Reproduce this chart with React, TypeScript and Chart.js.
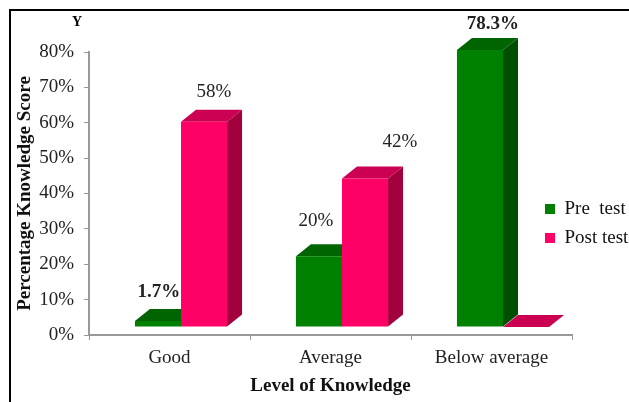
import React, { useEffect, useRef } from 'react';
import { Chart, registerables } from 'chart.js';

Chart.register(...registerables);

// ---- data ----
const categories = ['Good', 'Average', 'Below average'];
const seriesNames = ['Pre  test', 'Post test'];
const preTest = [1.7, 20, 78.3];
const postTest = [58, 42, 0];
const yTickValues = [0, 10, 20, 30, 40, 50, 60, 70, 80];

// ---- styles ----
const FONT = '"Liberation Serif", "Times New Roman", serif';
const frontColors = ['#008000', '#ff0066'];
const topColors = ['#006400', '#cc0052'];
const sideColors = ['#004e00', '#a3003e'];
const DX = 15;
const DY = 12;
const SHIFT_X = 11.5;
const SHIFT_Y = -8;
// label placement per dataset / category (offset from front top center)
const labelStyle: any[][] = [
  [
    { dx: 1, dy: -29, bold: true },
    { dx: -3, dy: -35, bold: false },
    { dx: 13, dy: -26, bold: true },
  ],
  [
    { dx: 10, dy: -30, bold: false },
    { dx: 35, dy: -36, bold: false },
    null,
  ],
];

const bar3d = {
  id: 'bar3d',
  beforeDraw(chart: any) {
    const ctx = chart.ctx;
    ctx.save();
    ctx.fillStyle = '#ffffff';
    ctx.fillRect(0, 0, chart.width, chart.height);
    ctx.fillStyle = '#000000';
    ctx.fillRect(9, 9, chart.width, 2);
    ctx.fillRect(9, 9, 2, chart.height);
    ctx.restore();
  },
  afterLayout(chart: any) {
    const lg = chart.legend;
    if (!lg) return;
    lg.left = 535;
    lg.right = chart.width;
    lg.width = lg.right - lg.left;
    lg.top = 189.5;
    lg.bottom = chart.height;
    lg.height = lg.bottom - lg.top;
  },
  beforeDatasetsDraw(chart: any) {
    const ctx = chart.ctx;
    ctx.save();
    ctx.translate(SHIFT_X, SHIFT_Y);
    chart.data.datasets.forEach((ds: any, di: number) => {
      const meta = chart.getDatasetMeta(di);
      meta.data.forEach((el: any) => {
        const { x, y, base, width } = el.getProps(['x', 'y', 'base', 'width'], true);
        const l = x - width / 2;
        const r = x + width / 2;
        ctx.fillStyle = sideColors[di];
        ctx.beginPath();
        ctx.moveTo(r, y);
        ctx.lineTo(r + DX, y - DY);
        ctx.lineTo(r + DX, base - DY);
        ctx.lineTo(r, base);
        ctx.closePath();
        ctx.fill();
        ctx.fillStyle = topColors[di];
        ctx.beginPath();
        ctx.moveTo(l, y);
        ctx.lineTo(l + DX, y - DY);
        ctx.lineTo(r + DX, y - DY);
        ctx.lineTo(r, y);
        ctx.closePath();
        ctx.fill();
      });
    });
  },
  afterDatasetsDraw(chart: any) {
    const ctx = chart.ctx;
    ctx.restore();
    ctx.save();
    ctx.fillStyle = '#222222';
    ctx.textAlign = 'center';
    ctx.textBaseline = 'middle';
    chart.data.datasets.forEach((ds: any, di: number) => {
      const meta = chart.getDatasetMeta(di);
      meta.data.forEach((el: any, i: number) => {
        const st = labelStyle[di][i];
        const v = ds.data[i];
        if (!st || !v) return;
        ctx.font = (st.bold ? 'bold ' : '') + '19px ' + FONT;
        ctx.fillText(v + '%', el.x + SHIFT_X + st.dx, el.y + SHIFT_Y + st.dy);
      });
    });
    ctx.font = 'bold 14px ' + FONT;
    ctx.fillStyle = '#000';
    ctx.fillText('Y', 77, 22);
    ctx.restore();
  },
};

export default function App() {
  const ref = useRef<HTMLCanvasElement | null>(null);
  useEffect(() => {
    if (!ref.current) return;
    const chart = new Chart(ref.current, {
      type: 'bar',
      data: {
        labels: categories,
        datasets: [
          {
            label: seriesNames[0],
            data: preTest,
            backgroundColor: frontColors[0],
            borderWidth: 0,
            categoryPercentage: 0.572,
            barPercentage: 1,
            clip: false as any,
          },
          {
            label: seriesNames[1],
            data: postTest,
            backgroundColor: frontColors[1],
            borderWidth: 0,
            categoryPercentage: 0.572,
            barPercentage: 1,
            clip: false as any,
          },
        ],
      },
      options: {
        animation: false,
        responsive: false,
        devicePixelRatio: 1,
        layout: { padding: { top: 52, left: 0, right: 0, bottom: 0 } },
        plugins: {
          tooltip: { enabled: false },
          title: { display: false },
          legend: {
            position: 'right',
            align: 'start',
            maxWidth: 57,
            labels: {
              boxWidth: 10,
              boxHeight: 10,
              padding: 10,
              color: '#111',
              font: { family: FONT, size: 19 },
            },
          },
        },
        scales: {
          x: {
            afterFit: (s: any) => {
              s.height = 67;
            },
            grid: {
              drawOnChartArea: false,
              drawTicks: true,
              tickLength: 5,
              color: '#999',
              offset: true,
            },
            border: { display: true, color: '#999', width: 2 },
            ticks: {
              padding: 7,
              color: '#222',
              font: { family: FONT, size: 19 },
            },
            title: {
              display: true,
              text: 'Level of Knowledge',
              color: '#111',
              font: { family: FONT, size: 19, weight: 'bold' },
              padding: { top: 0, bottom: 5 },
            },
          },
          y: {
            min: 0,
            max: 80,
            afterFit: (s: any) => {
              s.width = 89;
            },
            afterBuildTicks: (s: any) => {
              s.ticks = yTickValues.map((v) => ({ value: v }));
            },
            grid: {
              drawOnChartArea: false,
              drawTicks: true,
              tickLength: 5,
              color: '#999',
            },
            border: { display: true, color: '#999', width: 2 },
            ticks: {
              padding: 10,
              color: '#222',
              font: { family: FONT, size: 19 },
              callback: (v: any) => v + '%',
            },
            title: {
              display: true,
              text: 'Percentage Knowledge Score',
              color: '#111',
              font: { family: FONT, size: 19, weight: 'bold' },
              padding: { top: 14, bottom: 0 },
            },
          },
        },
      },
      plugins: [bar3d],
    });
    return () => chart.destroy();
  }, []);
  return (
    <div style={{ position: 'fixed', left: 0, top: 0, width: 629, height: 402, background: '#fff' }}>
      <canvas ref={ref} width={629} height={402} style={{ display: 'block' }} />
    </div>
  );
}
